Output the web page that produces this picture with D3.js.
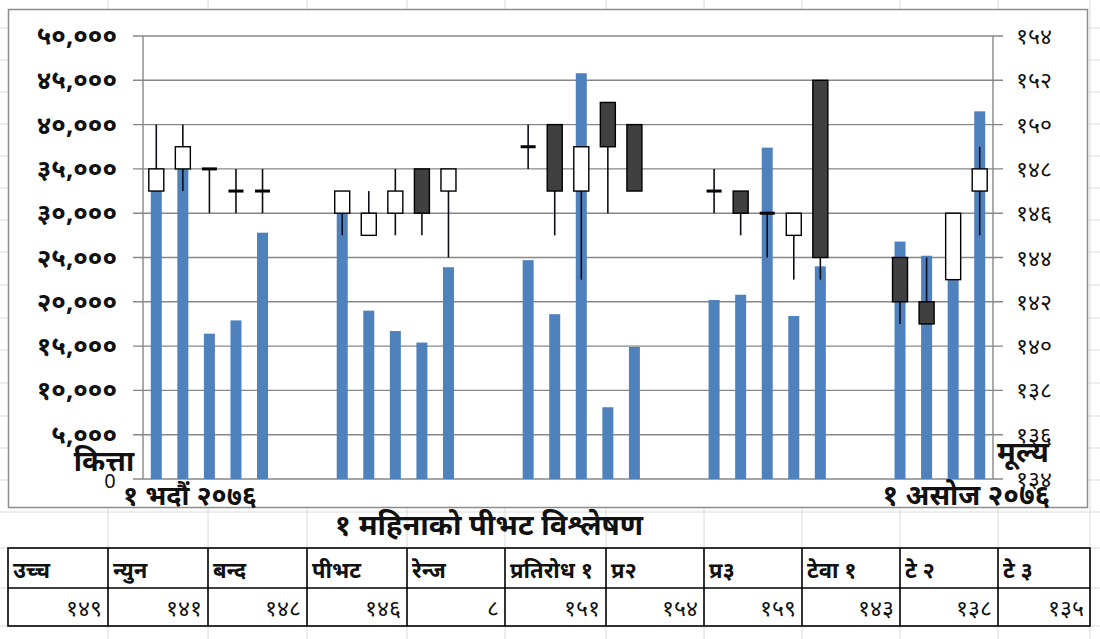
<!DOCTYPE html>
<html><head><meta charset="utf-8">
<script src="https://cdn.jsdelivr.net/npm/d3@7"></script>
<style>
body{margin:0;background:#fff;}
svg{display:block;font-family:"Noto Sans",sans-serif;}
</style>
</head><body>
<svg width="1100" height="639"></svg>
<script>
// trading days (day number counted from 1 Bhadra 2076)
var dayIndex = [0,1,2,3,4,7,8,9,10,11,14,15,16,17,18,21,22,23,24,25,28,29,30,31];
var volume = [34000,35500,16400,17900,27800,30500,19000,16700,15400,23900,24700,18600,45800,8100,14900,20200,20800,37400,18400,24000,26800,25200,25000,41500];
var open  = [147,148,148,147,147,146,145,146,148,147,149,150,147,151,150,147,147,146,145,152,144,142,143,147];
var high  = [150,150,148,148,148,147,147,148,148,148,150,150,149,151,150,148,147,146,146,152,144,144,146,149];
var low   = [147,147,146,146,146,145,145,145,145,144,148,145,143,146,147,146,145,144,143,143,141,141,143,145];
var close = [148,149,148,147,147,147,146,147,146,148,149,147,149,149,147,147,146,146,146,144,142,141,146,148];

var volTicks = [0,5000,10000,15000,20000,25000,30000,35000,40000,45000,50000];
var priceTicks = [134,136,138,140,142,144,146,148,150,152,154];
var firstLabel = "१ भदौं २०७६";
var lastLabel = "१ असोज २०७६";

var tableHeads = ["उच्च","न्युन","बन्द","पीभट","रेन्ज","प्रतिरोध १","प्र२","प्र३","टेवा १","टे २","टे ३"];
var tableValues = [149,141,148,146,8,151,154,159,143,138,135];
var tableTitle = "१ महिनाको पीभट विश्लेषण";

var deva = "०१२३४५६७८९";
function toDeva(s) { return String(s).replace(/[0-9]/g, function(c){ return deva[+c]; }); }

var svg = d3.select("svg");

// spreadsheet cell lines behind everything
var colLines = [108,208,307,407,505,606,704,802,900,998,1090];
var rowLines = [28,60,92,124,156,188,220,252,285,318,350,383,416,448,480,512,548,588,626];
svg.selectAll(".col").data(colLines).enter().append("line")
    .attr("x1", d => d).attr("x2", d => d).attr("y1", 0).attr("y2", 639)
    .attr("stroke", "#dadada").attr("stroke-width", 1);
svg.selectAll(".row").data(rowLines).enter().append("line")
    .attr("x1", 0).attr("x2", 1100).attr("y1", d => d).attr("y2", d => d)
    .attr("stroke", "#dadada").attr("stroke-width", 1);

// chart area
svg.append("rect").attr("x", 8.5).attr("y", 9.5).attr("width", 1079).attr("height", 498)
    .attr("fill", "#fff").attr("stroke", "#8c8c8c").attr("stroke-width", 1.5);

var plotL = 143, plotR = 993, plotT = 36, plotB = 479;

var x = d3.scaleBand().domain(d3.range(32)).range([plotL, plotR]);
var yVol = d3.scaleLinear().domain([0, 50000]).range([plotB, plotT]);
var yPrice = d3.scaleLinear().domain([134, 154]).range([plotB, plotT]);

// gridlines (also serve as ticks on both sides)
svg.selectAll(".grid").data(volTicks).enter().append("line")
    .attr("x1", plotL - 10).attr("x2", plotR + 10)
    .attr("y1", d => yVol(d)).attr("y2", d => yVol(d))
    .attr("stroke", "#878787").attr("stroke-width", 1.4);

// axis lines
svg.append("line").attr("x1", plotL).attr("x2", plotL).attr("y1", plotT).attr("y2", plotB)
    .attr("stroke", "#878787").attr("stroke-width", 1.4);
svg.append("line").attr("x1", plotR).attr("x2", plotR).attr("y1", plotT).attr("y2", plotB)
    .attr("stroke", "#878787").attr("stroke-width", 1.4);

var rows = dayIndex.map(function(d, i) {
  return {day: d, vol: volume[i], o: open[i], h: high[i], l: low[i], c: close[i]};
});

var cx = d => x(d.day) + x.bandwidth() / 2;

// volume bars
svg.selectAll(".bar").data(rows).enter().append("rect")
    .attr("x", d => cx(d) - 5.5)
    .attr("width", 11)
    .attr("y", d => yVol(d.vol))
    .attr("height", d => plotB - yVol(d.vol))
    .attr("fill", "#4f81bd");

// candle wicks
svg.selectAll(".wick").data(rows).enter().append("line")
    .attr("x1", cx).attr("x2", cx)
    .attr("y1", d => yPrice(d.h)).attr("y2", d => yPrice(d.l))
    .attr("stroke", "#0d0d1a").attr("stroke-width", 1.6);

// candle bodies
svg.selectAll(".body").data(rows.filter(d => d.o !== d.c)).enter().append("rect")
    .attr("x", d => cx(d) - 7.5)
    .attr("width", 15)
    .attr("y", d => yPrice(Math.max(d.o, d.c)))
    .attr("height", d => Math.abs(yPrice(d.o) - yPrice(d.c)))
    .attr("fill", d => d.c > d.o ? "#ffffff" : "#404040")
    .attr("stroke", "#000").attr("stroke-width", 1.4);

// doji: open equals close
svg.selectAll(".doji").data(rows.filter(d => d.o === d.c)).enter().append("line")
    .attr("x1", d => cx(d) - 7.5).attr("x2", d => cx(d) + 7.5)
    .attr("y1", d => yPrice(d.o)).attr("y2", d => yPrice(d.o))
    .attr("stroke", "#000").attr("stroke-width", 3);

// left axis labels
svg.selectAll(".lv").data(volTicks.filter(d => d > 0)).enter().append("text")
    .attr("x", 117).attr("y", d => yVol(d) + 9)
    .attr("text-anchor", "end")
    .attr("font-size", 26).attr("font-weight", "bold").attr("fill", "#111")
    .text(d => toDeva(d3.format(",")(d)));

// right axis labels
svg.selectAll(".rv").data(priceTicks).enter().append("text")
    .attr("x", 1016).attr("y", d => yPrice(d) + 8)
    .attr("font-size", 23).attr("fill", "#111")
    .text(d => toDeva(d));

svg.append("text").attr("x", 110).attr("y", plotB + 9).attr("text-anchor", "middle")
    .attr("font-size", 20).attr("fill", "#111").text("0");

svg.append("text").attr("x", 104).attr("y", 471).attr("text-anchor", "middle")
    .attr("font-size", 28).attr("font-weight", "bold").attr("fill", "#111").text("कित्ता");
svg.append("text").attr("x", 1023).attr("y", 462).attr("text-anchor", "middle")
    .attr("font-size", 29).attr("font-weight", "bold").attr("fill", "#111").text("मूल्य");

svg.append("text").attr("x", x(0) + 47).attr("y", 505).attr("text-anchor", "middle")
    .attr("font-size", 27).attr("font-weight", "bold").attr("fill", "#111").text(firstLabel);
svg.append("text").attr("x", x(31)).attr("y", 505).attr("text-anchor", "middle")
    .attr("font-size", 28).attr("font-weight", "bold").attr("fill", "#111").text(lastLabel);

// table
svg.append("text").attr("x", 489).attr("y", 535).attr("text-anchor", "middle")
    .attr("font-size", 29).attr("font-weight", "bold").attr("fill", "#111").text(tableTitle);

var colX = [8,108,208,307,407,505,606,704,802,900,998,1090];
var tRows = [548, 588, 626];
var tb = svg.append("g");
tb.append("rect").attr("x", colX[0]).attr("y", tRows[0]).attr("width", colX[11] - colX[0]).attr("height", tRows[2] - tRows[0])
    .attr("fill", "#fff").attr("stroke", "#000").attr("stroke-width", 1.6);
tb.append("line").attr("x1", colX[0]).attr("x2", colX[11]).attr("y1", tRows[1]).attr("y2", tRows[1])
    .attr("stroke", "#000").attr("stroke-width", 1.6);
tb.selectAll(".cl").data(colX.slice(1, 11)).enter().append("line")
    .attr("x1", d => d).attr("x2", d => d).attr("y1", tRows[0]).attr("y2", tRows[2])
    .attr("stroke", "#000").attr("stroke-width", 1.6);
tb.selectAll(".th").data(tableHeads).enter().append("text")
    .attr("x", (d, i) => colX[i] + 5).attr("y", tRows[1] - 10)
    .attr("font-size", 22).attr("font-weight", "bold").attr("fill", "#111").text(d => d);
tb.selectAll(".tv").data(tableValues).enter().append("text")
    .attr("x", (d, i) => colX[i + 1] - 6).attr("y", tRows[2] - 10)
    .attr("text-anchor", "end")
    .attr("font-size", 23).attr("fill", "#111").text(d => toDeva(d));
</script>
</body></html>
